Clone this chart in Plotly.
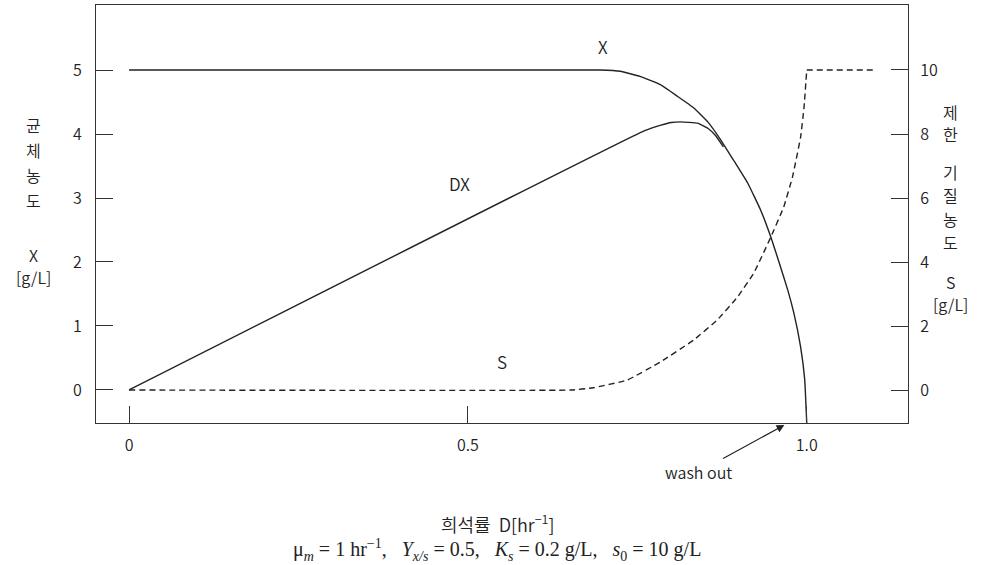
import plotly.graph_objects as go

# ---- data ----
D_X = [0.0, 0.695, 0.725, 0.754, 0.784, 0.809, 0.833, 0.854, 0.873, 0.892, 0.913,
       0.932, 0.947, 0.959, 0.972, 0.981, 0.991, 0.997, 1.0]
X_vals = [5.0, 5.0, 4.98, 4.90, 4.77, 4.59, 4.41, 4.19, 3.91, 3.59, 3.23,
          2.81, 2.39, 2.0, 1.56, 1.20, 0.67, 0.16, -0.52]

D_DX = [0.0, 0.76, 0.785, 0.80, 0.814, 0.839, 0.854, 0.865, 0.877]
DX_vals = [0.0, 4.05, 4.14, 4.18, 4.19, 4.17, 4.09, 3.98, 3.80]

D_S = [0.0, 0.652, 0.685, 0.735, 0.784, 0.833, 0.868, 0.898, 0.922, 0.947,
       0.966, 0.979, 0.991, 0.996, 1.0, 1.102]
S_vals = [0.0, 0.0, 0.07, 0.31, 0.875, 1.56, 2.19, 2.91, 3.66, 4.78,
          5.72, 6.66, 7.91, 8.84, 10.0, 10.0]

x_ticks = [0, 0.5, 1.0]
x_ticktext = ["0", "0.5", "1.0"]
y_ticks = [0, 1, 2, 3, 4, 5]
y2_ticks = [0, 2, 4, 6, 8, 10]

W, H = 1008, 565
L, R, T, B = 96, 908, 5, 423  # plot area in pixels


def px(xp):
    return (xp - L) / (R - L)


def py(yp):
    return (B - yp) / (B - T)


FONT = "Noto Sans CJK KR"
INK = "#222222"
WT = 350

fig = go.Figure()
fig.add_trace(go.Scatter(x=D_X, y=X_vals, mode="lines",
                         line=dict(color=INK, width=1.4, shape="spline", smoothing=0.3),
                         showlegend=False, hoverinfo="skip"))
fig.add_trace(go.Scatter(x=D_DX, y=DX_vals, mode="lines",
                         line=dict(color=INK, width=1.4, shape="spline", smoothing=0.3),
                         showlegend=False, hoverinfo="skip"))
# S: rising part (smoothed) and flat top (straight) so the corner stays sharp
fig.add_trace(go.Scatter(x=D_S[:-1], y=S_vals[:-1], mode="lines", yaxis="y2",
                         line=dict(color=INK, width=1.4, dash="6px,4px",
                                   shape="spline", smoothing=0.3),
                         showlegend=False, hoverinfo="skip"))
fig.add_trace(go.Scatter(x=D_S[-2:], y=S_vals[-2:], mode="lines", yaxis="y2",
                         line=dict(color=INK, width=1.4, dash="6px,4px"),
                         showlegend=False, hoverinfo="skip"))

tick_font = dict(family=FONT, size=16, color=INK, weight=WT)
axis_common = dict(showgrid=False, zeroline=False, showline=True, linecolor="#333333",
                   linewidth=1.2, ticks="inside", ticklen=17, tickcolor="#333333",
                   tickwidth=1.2, tickfont=tick_font)

fig.update_layout(
    width=W, height=H,
    margin=dict(l=L, r=W - R, t=T, b=H - B, autoexpand=False),
    plot_bgcolor="white", paper_bgcolor="white",
    xaxis=dict(range=[-0.0488, 1.1494], tickvals=x_ticks, ticktext=x_ticktext,
               mirror=True, ticklabelstandoff=8, **axis_common),
    yaxis=dict(range=[-0.516, 6.016], tickvals=y_ticks, mirror=True,
               ticklabelstandoff=10, **axis_common),
    yaxis2=dict(range=[-1.031, 12.031], tickvals=y2_ticks, overlaying="y", side="right",
                ticklabelstandoff=8, **axis_common),
)

ann = []
txt_font = dict(family=FONT, size=17, color=INK, weight=WT)
# curve labels (data coords)
ann.append(dict(x=0.70, y=5.375, xref="x", yref="y", text="X", showarrow=False, font=txt_font))
ann.append(dict(x=0.488, y=3.23, xref="x", yref="y", text="DX", showarrow=False, font=txt_font))
ann.append(dict(x=0.55, y=0.44, xref="x", yref="y", text="S", showarrow=False, font=txt_font))

# wash out arrow (tip just under the x axis line)
ann.append(dict(x=0.967, y=py(425), xref="x", yref="paper", text="wash out", showarrow=True,
                ax=-86, ay=47, arrowhead=2, arrowsize=1.3, arrowwidth=1.2,
                arrowcolor=INK, font=dict(family=FONT, size=16, color=INK, weight=WT)))

lab_font = dict(family=FONT, size=16, color=INK, weight=WT)
# left vertical title
for t, yp in [("균", 125), ("체", 150), ("농", 175), ("도", 200), ("X", 255), ("[g/L]", 277)]:
    ann.append(dict(x=px(33), y=py(yp), xref="paper", yref="paper", text=t,
                    showarrow=False, font=lab_font, xanchor="center", yanchor="middle"))
# right vertical title
for t, yp in [("제", 112), ("한", 134), ("기", 172), ("질", 195), ("농", 219), ("도", 242),
              ("S", 282), ("[g/L]", 304)]:
    ann.append(dict(x=px(950), y=py(yp), xref="paper", yref="paper", text=t,
                    showarrow=False, font=lab_font, xanchor="center", yanchor="middle"))

# bottom titles
ann.append(dict(x=px(497), y=py(523), xref="paper", yref="paper",
                text="희석률&nbsp;&nbsp;D[hr<sup>−1</sup>]", showarrow=False,
                font=dict(family=FONT, size=18, color=INK, weight=WT),
                xanchor="center", yanchor="middle"))
sp = "&nbsp;"
ann.append(dict(x=px(497), y=py(550), xref="paper", yref="paper",
                text=f"μ<sub><i>m</i></sub>{sp}={sp}1{sp}hr<sup>−1</sup>,{sp*3}"
                     f"<i>Y</i><sub><i>x/s</i></sub>{sp}={sp}0.5,{sp*3}"
                     f"<i>K</i><sub><i>s</i></sub>{sp}={sp}0.2{sp}g/L,{sp*3}"
                     f"<i>s</i><sub>0</sub>{sp}={sp}10{sp}g/L",
                showarrow=False, font=dict(family="Liberation Serif", size=20, color=INK),
                xanchor="center", yanchor="middle"))

fig.update_layout(annotations=ann)
fig.write_html("out.html", config={"displayModeBar": False},
               post_script="document.body.style.margin='0';document.body.style.padding='0';")
